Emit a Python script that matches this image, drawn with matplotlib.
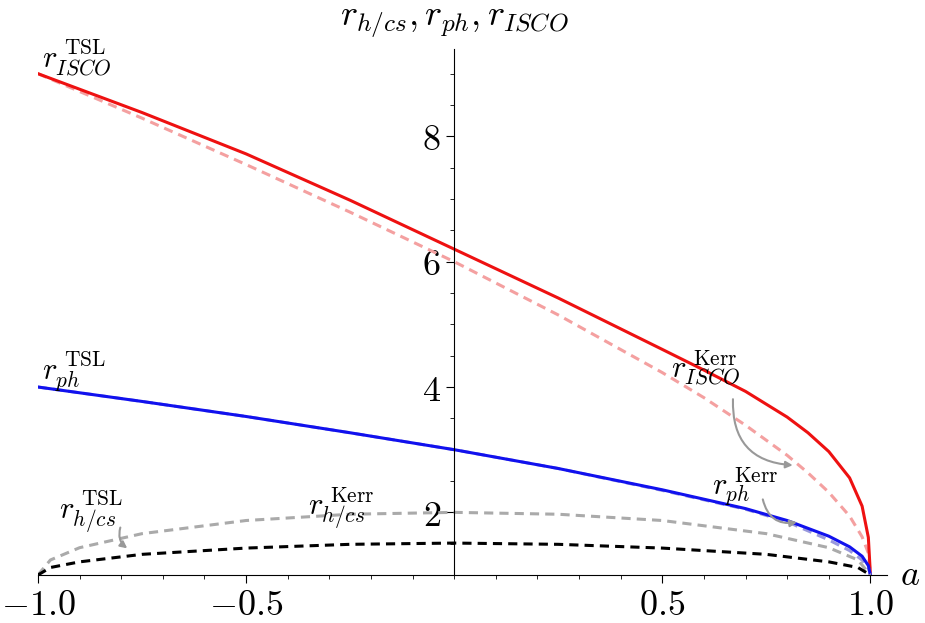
import matplotlib
matplotlib.use("Agg")
from matplotlib import pyplot as plt
from matplotlib.ticker import MultipleLocator

plt.rcParams["mathtext.fontset"] = "cm"

# values
a_isco = [-1.0, -0.75, -0.5, -0.25, 0.0, 0.25, 0.5, 0.6, 0.7, 0.8, 0.85, 0.9, 0.95, 0.98, 0.995, 1.0]
isco_kerr = [9.0, 8.29, 7.55, 6.79, 6.0, 5.15, 4.23, 3.83, 3.39, 2.91, 2.63, 2.32, 1.94, 1.61, 1.35, 1.0]
isco_tsl = [9.0, 8.38, 7.72, 6.98, 6.2, 5.42, 4.6, 4.27, 3.93, 3.52, 3.27, 2.97, 2.55, 2.1, 1.6, 1.0]

a_ph = [-1.0, -0.75, -0.5, -0.25, 0.0, 0.25, 0.5, 0.6, 0.7, 0.8, 0.9, 0.95, 0.98, 0.995, 1.0]
ph_kerr = [4.0, 3.77, 3.53, 3.27, 3.0, 2.7, 2.35, 2.2, 2.05, 1.85, 1.56, 1.39, 1.24, 1.12, 1.0]
ph_tsl = [4.0, 3.77, 3.53, 3.27, 3.0, 2.7, 2.36, 2.21, 2.06, 1.87, 1.62, 1.45, 1.3, 1.15, 1.0]

a_hor = [-1.0, -0.97, -0.9, -0.75, -0.5, -0.25, 0.0, 0.25, 0.5, 0.75, 0.9, 0.97, 1.0]
hor_kerr = [1.0, 1.24, 1.436, 1.66, 1.87, 1.97, 2.0, 1.97, 1.87, 1.66, 1.436, 1.24, 1.0]
hor_tsl = [1.0, 1.12, 1.21, 1.33, 1.43, 1.49, 1.51, 1.49, 1.43, 1.33, 1.21, 1.12, 1.0]

fig = plt.figure(figsize=(9.25, 6.23), dpi=100)
ax = fig.add_axes([0.041, 0.077, 0.918, 0.845])
ax.set_xlim(-1.0, 1.04)
ax.set_ylim(1.0, 9.4)

ax.plot(a_isco, isco_kerr, color="#f4a0a0", lw=2.2, ls=(0, (3, 2)))
ax.plot(a_isco, isco_tsl, color="#ee1111", lw=2.2)
ax.plot(a_ph, ph_kerr, color="#9999dd", lw=2.2, ls=(0, (3, 2)))
ax.plot(a_ph, ph_tsl, color="#1111ee", lw=2.2)
ax.plot(a_hor, hor_kerr, color="#aaaaaa", lw=2.2, ls=(0, (3, 2)))
ax.plot(a_hor, hor_tsl, color="black", lw=2.2, ls=(0, (3, 2)))

for s in ["top", "right"]:
    ax.spines[s].set_visible(False)
ax.spines["left"].set_position(("data", 0))
ax.spines["bottom"].set_position(("data", 1))
ax.set_xticks([-1.0, -0.5, 0.5, 1.0])
ax.set_xticklabels([r"$-\mathit{1.0}$", r"$-\mathit{0.5}$", r"$\mathit{0.5}$", r"$\mathit{1.0}$"], fontsize=26)
ax.set_yticks([2, 4, 6, 8])
ax.set_yticklabels([r"$\mathit{2}$", r"$\mathit{4}$", r"$\mathit{6}$", r"$\mathit{8}$"], fontsize=26)
ax.xaxis.set_minor_locator(MultipleLocator(0.1))
ax.yaxis.set_minor_locator(MultipleLocator(0.5))
ax.tick_params(which="major", length=6)
ax.tick_params(which="minor", length=3)

ax.text(0.0, 9.55, r"$r_{h/cs}, r_{ph}, r_{ISCO}$", fontsize=26, ha="center", va="bottom")
ax.text(1.07, 1.0, r"$a$", fontsize=26, ha="left", va="center")

lab = dict(fontsize=22, ha="left", va="center")
ax.text(-0.99, 9.25, r"$r_{ISCO}^{\ \mathrm{TSL}}$", **lab)
ax.text(-0.99, 4.25, r"$r_{ph}^{\ \mathrm{TSL}}$", **lab)
ax.text(-0.95, 2.0, r"$r_{h/cs}^{\ \mathrm{TSL}}$", **lab)
ax.text(-0.35, 2.05, r"$r_{h/cs}^{\ \mathrm{Kerr}}$", **lab)
ax.text(0.52, 4.3, r"$r_{ISCO}^{\ \mathrm{Kerr}}$", **lab)
ax.text(0.62, 2.4, r"$r_{ph}^{\ \mathrm{Kerr}}$", **lab)

arr = dict(arrowstyle="-|>", color="#999999", lw=1.5)
ax.annotate("", xy=(0.82, 2.75), xytext=(0.67, 3.85),
            arrowprops=dict(connectionstyle="arc3,rad=0.5", **arr))
ax.annotate("", xy=(0.83, 1.85), xytext=(0.74, 2.25),
            arrowprops=dict(connectionstyle="arc3,rad=0.5", **arr))
ax.annotate("", xy=(-0.78, 1.4), xytext=(-0.8, 1.8),
            arrowprops=dict(connectionstyle="arc3,rad=0.4", **arr))

fig.savefig("out.png", dpi=100)
